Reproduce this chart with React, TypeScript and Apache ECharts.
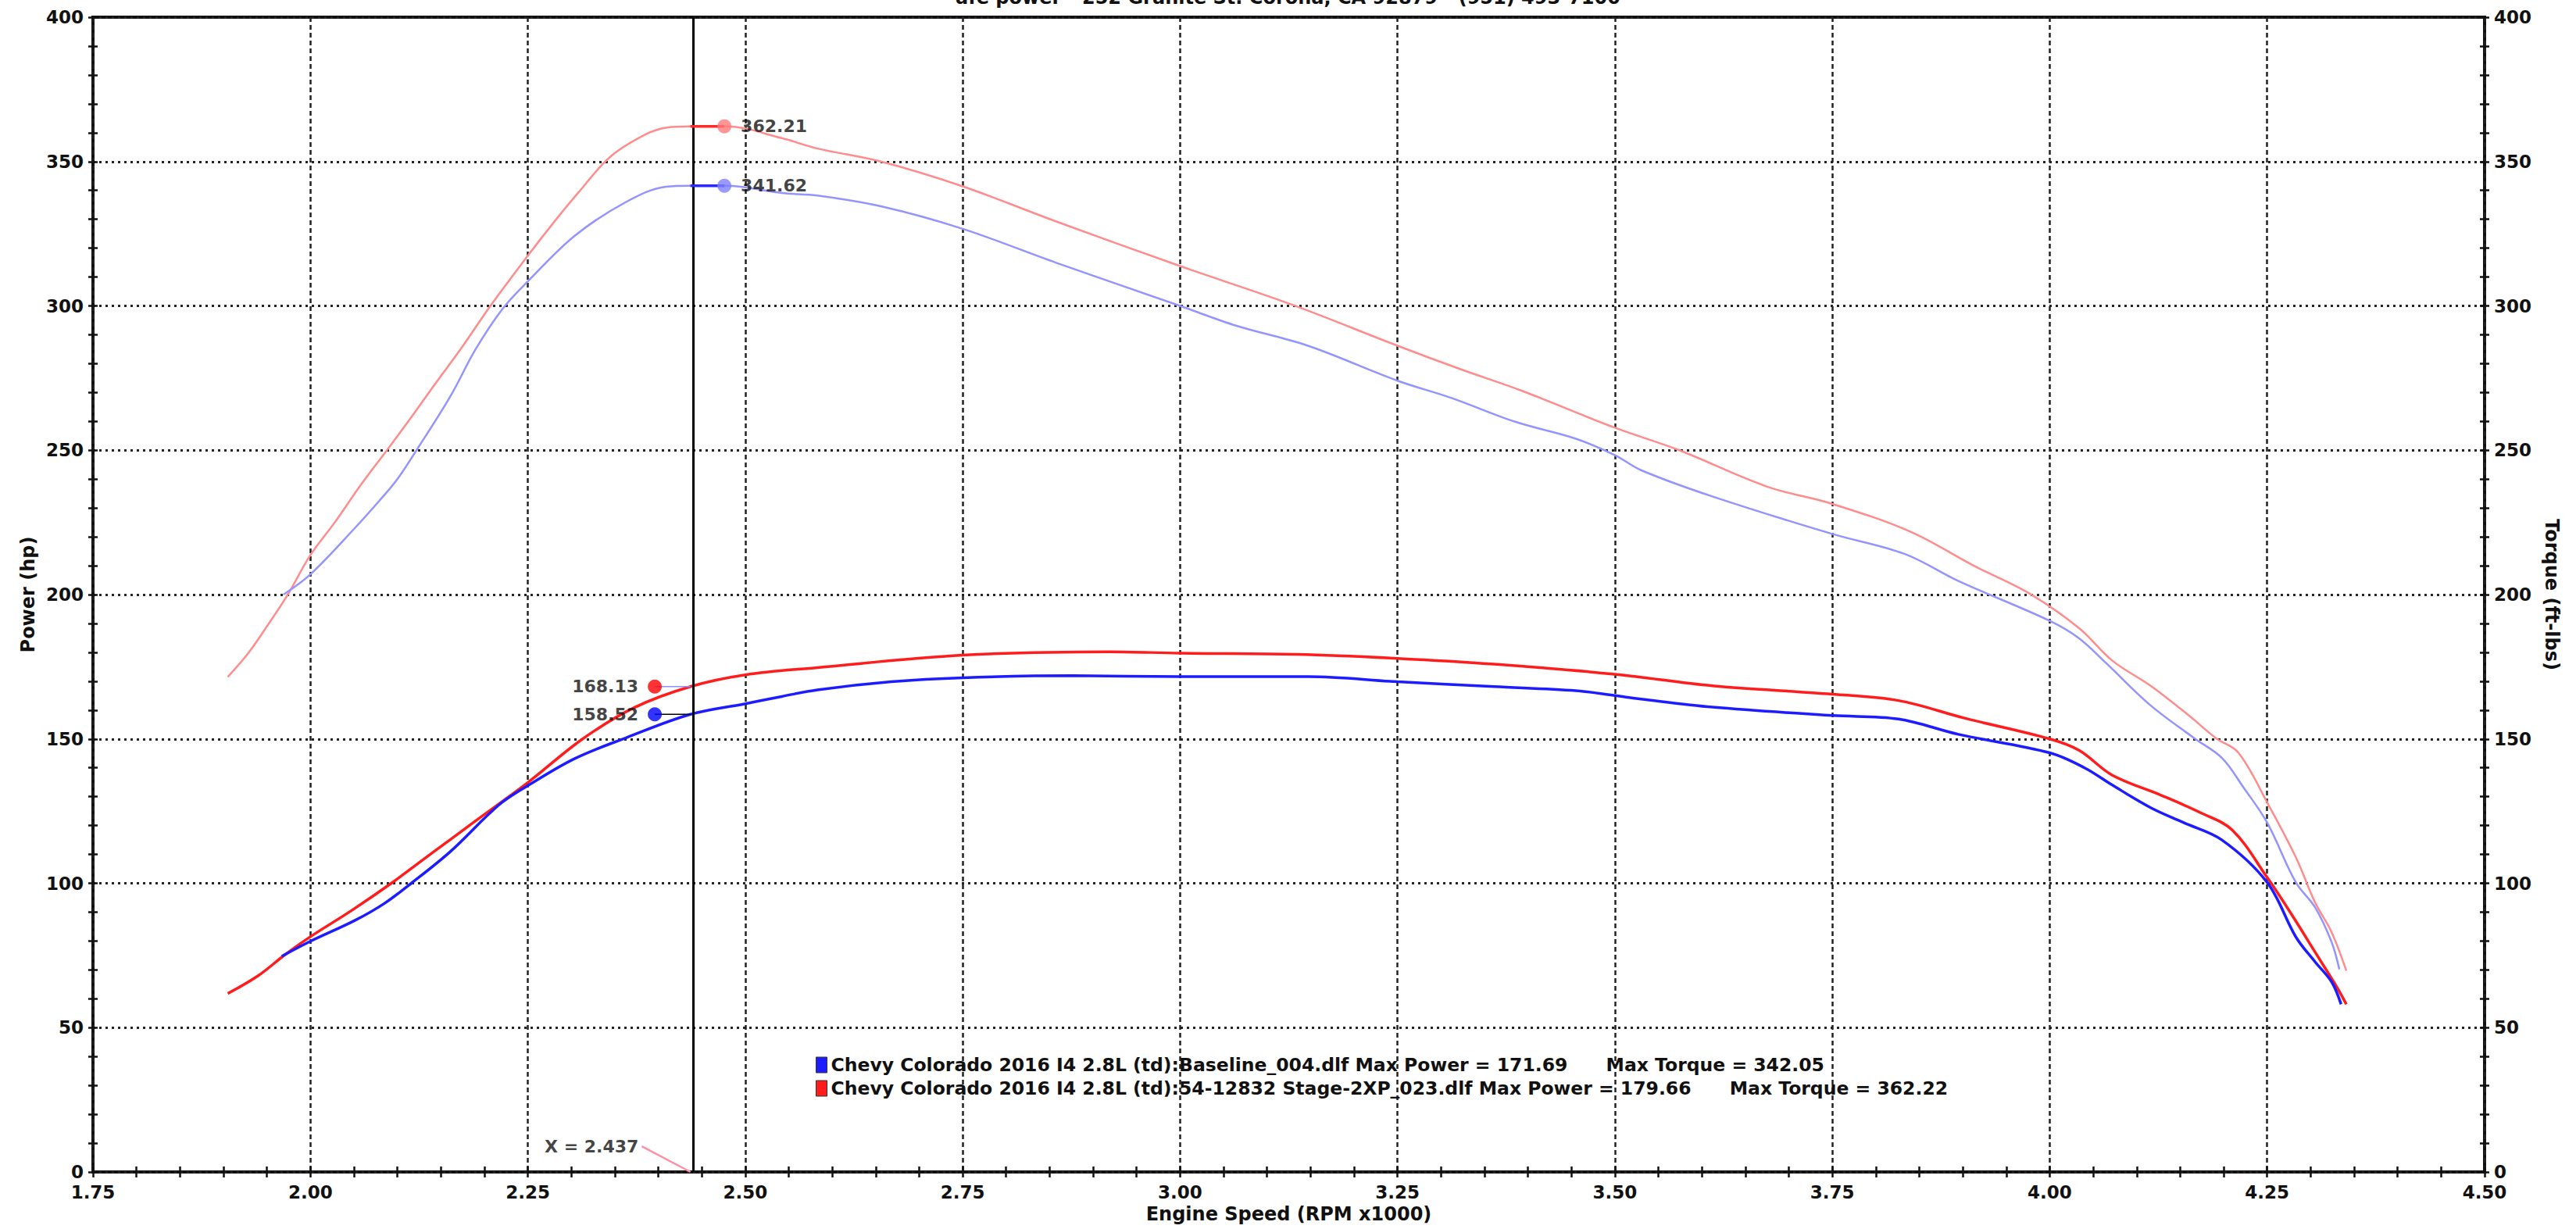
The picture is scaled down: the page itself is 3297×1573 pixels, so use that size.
import React, { useEffect, useRef } from "react";
import * as echarts from "echarts";

// ---------- data ----------
const X_MIN = 1.75;
const X_MAX = 4.5;
const X_STEP = 0.25;
const Y_MIN = 0;
const Y_MAX = 400;
const Y_STEP = 50;

const titleText = "afe power - 252 Granite St. Corona, CA 92879 - (951) 493-7100";
const xAxisName = "Engine Speed (RPM x1000)";
const leftAxisName = "Power (hp)";
const rightAxisName = "Torque (ft-lbs)";

const legendNames = [
  "Chevy Colorado 2016 I4 2.8L (td):Baseline_004.dlf Max Power = 171.69      Max Torque = 342.05",
  "Chevy Colorado 2016 I4 2.8L (td):54-12832 Stage-2XP_023.dlf Max Power = 179.66      Max Torque = 362.22",
];

// Stage-2 torque (ft-lbs)
const stage2Torque: [number, number][] = [
  [1.905, 171.5], [1.928, 179.5], [1.95, 189], [1.974, 200], [2.0, 213.7], [2.028, 225],
  [2.058, 238], [2.088, 250], [2.115, 261], [2.143, 272.8], [2.175, 286], [2.207, 300],
  [2.25, 317.4], [2.28, 329], [2.308, 339.2], [2.345, 351.7], [2.386, 359.5], [2.41, 361.8],
  [2.437, 362.21], [2.478, 362.2], [2.542, 358.1], [2.583, 354.5], [2.656, 350], [2.75, 341.4],
  [2.857, 329.3], [3.0, 313.8], [3.128, 300.5], [3.25, 286.2], [3.323, 278], [3.392, 270.7],
  [3.5, 257.8], [3.574, 250], [3.675, 237.4], [3.75, 231.4], [3.839, 221.9], [3.914, 209.8],
  [3.977, 200.3], [4.034, 188.3], [4.072, 177.1], [4.116, 168.4], [4.16, 158.1], [4.191, 150.3],
  [4.217, 145.2], [4.25, 128], [4.283, 109], [4.305, 93.4], [4.324, 83.1], [4.341, 69.7],
];

// Baseline torque (ft-lbs)
const baselineTorque: [number, number][] = [
  [1.969, 200], [2.0, 207], [2.051, 223], [2.079, 232.4], [2.1, 240], [2.122, 250],
  [2.161, 268.7], [2.19, 285], [2.221, 299], [2.25, 308.5], [2.304, 324.3], [2.363, 336],
  [2.409, 341.3], [2.437, 341.62], [2.478, 341.6], [2.542, 339.1], [2.583, 338.2], [2.656, 334.5],
  [2.75, 326.7], [2.857, 315], [3.0, 300], [3.065, 293.1], [3.147, 286.2], [3.25, 274.1],
  [3.312, 268.1], [3.386, 259.8], [3.455, 254], [3.5, 248.3], [3.53, 243.1], [3.612, 234],
  [3.75, 221], [3.833, 214.1], [3.895, 204.7], [4.0, 190.9], [4.034, 184.8], [4.065, 176.2],
  [4.116, 161.6], [4.166, 150.3], [4.198, 143.4], [4.223, 133.1], [4.25, 121], [4.283, 100.3],
  [4.305, 91.7], [4.324, 79.7], [4.333, 70.2],
];

// Stage-2 power (hp)
const stage2Power: [number, number][] = [
  [1.905, 61.8], [1.94, 68], [1.971, 75.3], [2.0, 81.5], [2.047, 90.5], [2.093, 100],
  [2.14, 110.5], [2.189, 121.4], [2.25, 134.9], [2.313, 150], [2.372, 160.8], [2.437, 168.13],
  [2.5, 172.2], [2.583, 174.7], [2.75, 179], [2.92, 180.2], [3.0, 179.7], [3.134, 179.3],
  [3.25, 177.9], [3.361, 175.9], [3.5, 172.4], [3.612, 168.4], [3.75, 165.5], [3.826, 163.3],
  [3.902, 157.2], [4.0, 150], [4.034, 146], [4.072, 137.4], [4.128, 130.5], [4.173, 124.5],
  [4.21, 118.4], [4.25, 102], [4.28, 88.3], [4.305, 76.2], [4.33, 64.1], [4.341, 58.1],
];

// Baseline power (hp)
const baselinePower: [number, number][] = [
  [1.967, 74.7], [2.0, 79.9], [2.051, 87.1], [2.085, 93], [2.116, 100], [2.161, 111],
  [2.217, 127.2], [2.25, 133.8], [2.304, 143.2], [2.363, 150.4], [2.437, 158.52], [2.5, 162.2],
  [2.542, 164.7], [2.583, 167], [2.668, 169.8], [2.75, 171.2], [2.876, 171.9], [3.0, 171.6],
  [3.147, 171.6], [3.25, 169.8], [3.361, 168.1], [3.455, 166.7], [3.5, 165], [3.53, 163.8],
  [3.612, 161], [3.75, 158.1], [3.826, 156.9], [3.895, 151.6], [4.0, 145.2], [4.04, 140],
  [4.072, 134], [4.116, 126.2], [4.154, 121], [4.198, 115], [4.25, 100.3], [4.283, 81.4],
  [4.305, 72.8], [4.324, 65.9], [4.335, 58.1],
];

// cursor readout
const cursorX = 2.437;
const cursorLabel = "X = 2.437";
const powerMarkerX = 2.396;
const torqueMarkerX = 2.476;
const stage2PowerAtCursor = 168.13;
const baselinePowerAtCursor = 158.52;
const stage2TorqueAtCursor = 362.21;
const baselineTorqueAtCursor = 341.62;
const leaderStart: [number, number] = [2.381, 8.9];
const leaderEnd: [number, number] = [2.437, 0];

// ---------- styles ----------
const FONT = "DejaVu Sans";
const INK = "#111";
const DARK_BLUE = "#1c1cff";
const DARK_RED = "#ff1c1c";
const LIGHT_BLUE = "#9494ff";
const LIGHT_RED = "#ff8c8c";

const shadow = {
  shadowColor: "rgba(0,0,0,0.35)",
  shadowBlur: 2,
  shadowOffsetX: 5,
  shadowOffsetY: 7,
};

function buildOption() {
  const tickStyle = { color: INK, width: 2.5 };
  const labelStyle = { fontFamily: FONT, fontWeight: "bold" as const, fontSize: 23, color: INK };
  const nameStyle = { fontFamily: FONT, fontWeight: "bold" as const, fontSize: 24, color: INK };

  const xMain = {
    type: "value",
    min: X_MIN,
    max: X_MAX,
    interval: X_STEP,
    position: "bottom",
    name: xAxisName,
    nameLocation: "middle",
    nameGap: 40,
    nameTextStyle: nameStyle,
    axisLine: { show: true, lineStyle: { color: INK, width: 4, ...shadow } },
    axisTick: { show: true, length: 7, lineStyle: tickStyle },
    minorTick: { show: true, splitNumber: 5, length: 7, lineStyle: tickStyle },
    splitLine: { show: true, lineStyle: { color: "#222", width: 2.5, type: [6, 4] } },
    axisLabel: { ...labelStyle, margin: 14, formatter: (v: number) => v.toFixed(2) },
  };
  const xInner = {
    type: "value",
    min: X_MIN,
    max: X_MAX,
    interval: X_STEP,
    position: "bottom",
    axisLine: { show: false },
    axisTick: { show: true, inside: true, length: 7, lineStyle: tickStyle },
    minorTick: { show: true, splitNumber: 5, length: 7, lineStyle: tickStyle },
    splitLine: { show: false },
    axisLabel: { show: false },
  };

  const yMain = (pos: "left" | "right", name: string, rot: number, gap: number, grid: boolean) => ({
    type: "value",
    min: Y_MIN,
    max: Y_MAX,
    interval: Y_STEP,
    position: pos,
    name,
    nameLocation: "middle",
    nameRotate: rot,
    nameGap: gap,
    nameTextStyle: nameStyle,
    axisLine: {
      show: true,
      onZero: false,
      lineStyle: { color: INK, width: 4, ...shadow, shadowOffsetY: 4, shadowOffsetX: pos === "left" ? 3 : 6 },
    },
    axisTick: { show: true, length: 6, lineStyle: tickStyle },
    minorTick: { show: true, splitNumber: 5, length: 6, lineStyle: tickStyle },
    splitLine: { show: grid, lineStyle: { color: "#222", width: 3, type: [3, 5] } },
    axisLabel: { ...labelStyle, margin: 12 },
  });
  const yInner = (pos: "left" | "right") => ({
    type: "value",
    min: Y_MIN,
    max: Y_MAX,
    interval: Y_STEP,
    position: pos,
    axisLine: { show: false, onZero: false },
    axisTick: { show: true, inside: true, length: 6, lineStyle: tickStyle },
    minorTick: { show: true, splitNumber: 5, length: 6, lineStyle: tickStyle },
    splitLine: { show: false },
    axisLabel: { show: false },
  });

  const curve = (name: string, data: [number, number][], color: string, width: number, yAxisIndex: number, z: number) => ({
    name,
    type: "line",
    data,
    yAxisIndex,
    xAxisIndex: 0,
    showSymbol: false,
    symbol: "none",
    smooth: 0.35,
    z,
    color,
    lineStyle: { color, width },
    silent: true,
  });

  const connector = (x0: number, x1: number, v: number, color: string, width: number, yAxisIndex: number) => ({
    type: "line",
    data: [[x0, v], [x1, v]],
    yAxisIndex,
    symbol: "none",
    z: 6,
    lineStyle: { color, width },
    silent: true,
  });

  const marker = (x: number, v: number, color: string, yAxisIndex: number, side: "left" | "right") => ({
    type: "scatter",
    data: [[x, v]],
    yAxisIndex,
    symbol: "circle",
    symbolSize: 18,
    z: 8,
    itemStyle: { color },
    label: {
      show: true,
      position: side,
      distance: 12,
      formatter: () => v.toFixed(2),
      fontFamily: FONT,
      fontWeight: "bold",
      fontSize: 22,
      color: INK,
    },
    silent: true,
  });

  return {
    animation: false,
    backgroundColor: "#fff",
    title: {
      text: titleText,
      left: "center",
      top: -15,
      padding: 0,
      textStyle: { fontFamily: FONT, fontWeight: "bold", fontSize: 24, color: INK },
    },
    legend: {
      show: true,
      orient: "vertical",
      left: 1044,
      top: 1351,
      padding: 0,
      itemGap: 6,
      itemWidth: 14,
      itemHeight: 20,
      icon: "rect",
      itemStyle: { borderColor: "#333", borderWidth: 1 },
      textStyle: { fontFamily: FONT, fontWeight: "bold", fontSize: 23.5, color: INK },
      data: [legendNames[0], legendNames[1]],
      selectedMode: false,
    },
    grid: {
      left: 119,
      right: 117,
      top: 22,
      bottom: 73,
      show: true,
      borderColor: INK,
      borderWidth: 4,
      backgroundColor: "transparent",
    },
    xAxis: [xMain, xInner],
    yAxis: [
      yMain("left", leftAxisName, 90, 70, true),
      yInner("left"),
      yMain("right", rightAxisName, -90, 74, false),
      yInner("right"),
    ],
    series: [
      curve("Stage-2 Torque", stage2Torque, LIGHT_RED, 2.5, 2, 3),
      curve("Baseline Torque", baselineTorque, LIGHT_BLUE, 2.5, 2, 3),
      curve(legendNames[1], stage2Power, DARK_RED, 3.5, 0, 4),
      {
        ...curve(legendNames[0], baselinePower, DARK_BLUE, 3.5, 0, 4),
        markLine: {
          silent: true,
          symbol: ["none", "none"],
          label: { show: false },
          lineStyle: { color: "#000", width: 3, type: "solid" },
          data: [{ xAxis: cursorX }],
          z: 5,
        },
      },
      connector(cursorX, torqueMarkerX, stage2TorqueAtCursor, "#ff2a2a", 3.5, 2),
      connector(cursorX, torqueMarkerX, baselineTorqueAtCursor, "#2a2aff", 3.5, 2),
      connector(powerMarkerX, cursorX, stage2PowerAtCursor, "#8f8fff", 1.5, 0),
      connector(powerMarkerX, cursorX, baselinePowerAtCursor, "#000", 1.5, 0),
      marker(torqueMarkerX, stage2TorqueAtCursor, "#ff7b7b", 2, "right"),
      marker(torqueMarkerX, baselineTorqueAtCursor, "#8080ff", 2, "right"),
      marker(powerMarkerX, stage2PowerAtCursor, "#ff0000", 0, "left"),
      marker(powerMarkerX, baselinePowerAtCursor, "#0000ff", 0, "left"),
      {
        type: "line",
        data: [leaderStart, leaderEnd],
        yAxisIndex: 0,
        symbol: "none",
        z: 6,
        lineStyle: { color: "#ff8fa3", width: 2.5 },
        silent: true,
      },
      {
        type: "scatter",
        data: [leaderStart],
        yAxisIndex: 0,
        symbolSize: 0,
        z: 7,
        label: {
          show: true,
          position: "left",
          distance: 4,
          formatter: () => cursorLabel,
          fontFamily: FONT,
          fontWeight: "bold",
          fontSize: 22,
          color: INK,
        },
        silent: true,
      },
    ],
  };
}

export default function App() {
  const ref = useRef<HTMLDivElement>(null);
  useEffect(() => {
    if (!ref.current) return;
    const chart = echarts.init(ref.current, undefined, { renderer: "svg" });
    chart.setOption(buildOption() as any);
    return () => chart.dispose();
  }, []);
  return (
    <div
      ref={ref}
      style={{ position: "absolute", left: 0, top: 0, width: 3297, height: 1573, background: "#fff" }}
    />
  );
}
